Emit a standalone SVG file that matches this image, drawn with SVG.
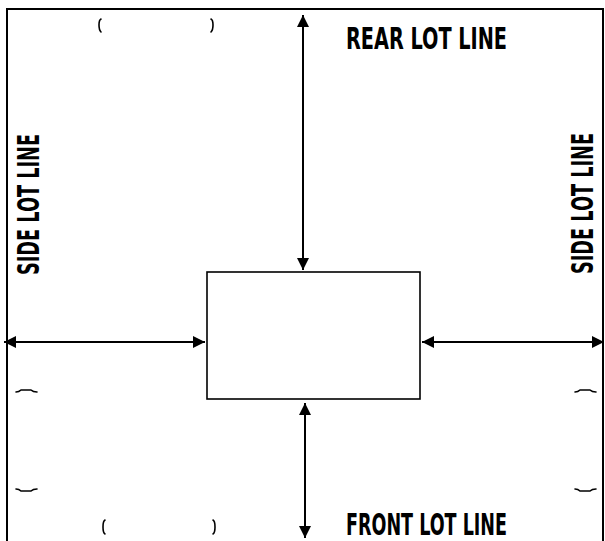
<svg xmlns="http://www.w3.org/2000/svg" width="605" height="541" viewBox="0 0 605 541">
<style>
.lbl{font-family:"Liberation Sans Narrow","DejaVu Sans Condensed","Liberation Sans",sans-serif;font-weight:bold;font-size:31px;fill:#000}
.ln{stroke:#000;stroke-width:2;fill:none}
.mk{stroke:#000;stroke-width:1.6;fill:none;stroke-linecap:round;stroke-linejoin:round}
</style>
<defs>
<marker id="ah" viewBox="0 0 10 10" refX="10" refY="5" markerWidth="6" markerHeight="6" orient="auto-start-reverse" markerUnits="strokeWidth">
<path d="M0,0 L10,5 L0,10 z" fill="#000"/>
</marker>
</defs>
<rect width="605" height="541" fill="#fff"/>
<g id="lot">
<path class="ln" d="M7,541 V9 H603 V541"/>
</g>
<g id="building">
<rect x="207" y="272" width="213" height="127" fill="#fff" stroke="#000" stroke-width="1.6"/>
</g>
<g id="connectors">
<line class="ln" x1="303" y1="15" x2="303" y2="270" marker-start="url(#ah)" marker-end="url(#ah)"/>
<line class="ln" x1="305" y1="403" x2="305" y2="538" marker-start="url(#ah)" marker-end="url(#ah)"/>
<line class="ln" x1="4" y1="342" x2="205" y2="342" marker-start="url(#ah)" marker-end="url(#ah)"/>
<line class="ln" x1="422" y1="342" x2="604" y2="342" marker-start="url(#ah)" marker-end="url(#ah)"/>
</g>
<g id="marks">
<path class="mk" d="M101,19 Q99,20 99,25 Q99,30 101,32"/>
<path class="mk" d="M211,19 Q213,20 213,25 Q213,30 211,32"/>
<path class="mk" d="M105,520 Q103,521 103,527 Q103,533 105,534"/>
<path class="mk" d="M213,520 Q215,521 215,527 Q215,533 213,534"/>
<path class="mk" d="M16,392 Q19,392 21,390 L31,390 Q33,392 37,392"/>
<path class="mk" d="M16,489 Q19,489 21,491 L31,491 Q33,489 37,489"/>
<path class="mk" d="M575,392 Q578,392 580,390 L590,390 Q592,392 596,392"/>
<path class="mk" d="M575,489 Q578,489 580,491 L590,491 Q592,489 596,489"/>
</g>
<g id="rear-label"><text class="lbl" x="346" y="49" textLength="161" lengthAdjust="spacingAndGlyphs">REAR LOT LINE</text></g>
<g id="front-label"><text class="lbl" x="346" y="535" textLength="161" lengthAdjust="spacingAndGlyphs">FRONT LOT LINE</text></g>
<g id="side-left-label"><text class="lbl" transform="translate(39,275) rotate(-90)" textLength="141" lengthAdjust="spacingAndGlyphs">SIDE LOT LINE</text></g>
<g id="side-right-label"><text class="lbl" transform="translate(593,274) rotate(-90)" textLength="141" lengthAdjust="spacingAndGlyphs">SIDE LOT LINE</text></g>
</svg>
